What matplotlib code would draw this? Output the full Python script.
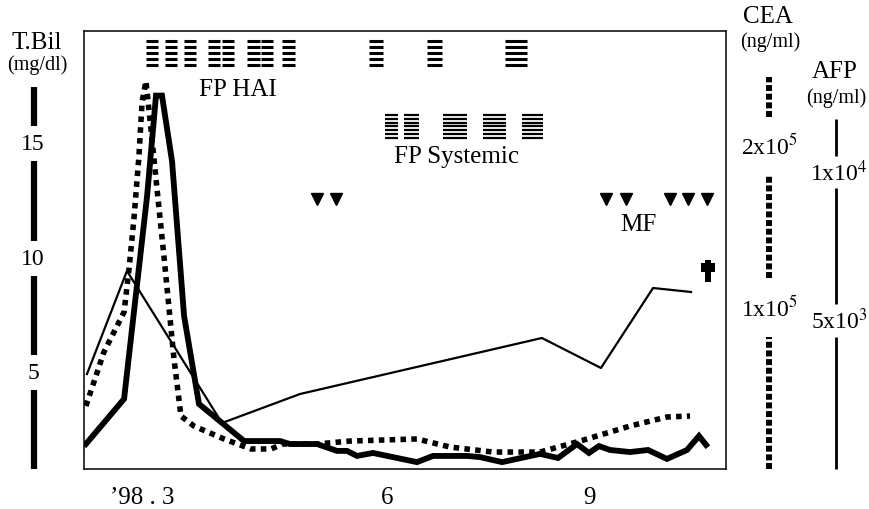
import numpy as np
import matplotlib
matplotlib.use("Agg")
import matplotlib.pyplot as plt
import matplotlib.transforms as mtransforms
from matplotlib.path import Path

plt.rcParams['font.family'] = ['Liberation Serif', 'DejaVu Serif']
plt.rcParams['mathtext.fontset'] = 'stix'

# time axis in days from the left edge of the frame
tbil_days = [0.8, 16.7, 26.3, 30.0, 32.5, 36.7, 41.7, 47.9, 66.7, 81.7, 85.8, 97.1,
             105.4, 109.6, 113.75, 120.4, 138.75, 145.4, 159.6, 165.0, 174.2, 190.0,
             197.5, 205.4, 210.4, 214.6, 219.2, 227.5, 235.0, 242.9, 251.25, 256.25, 259.2]
tbil_vals = [1.89, 3.86, 12.73, 17.10, 17.10, 14.22, 7.48, 3.64, 2.02, 2.02, 1.89, 1.89,
             1.59, 1.59, 1.37, 1.50, 1.10, 1.37, 1.37, 1.32, 1.10, 1.46,
             1.28, 1.89, 1.50, 1.80, 1.63, 1.54, 1.63, 1.24, 1.63, 2.24, 1.85]

cea_days = [0.8, 8.3, 16.7, 18.75, 20.8, 22.9, 24.2, 25.8, 27.9, 30.0, 33.3, 37.5, 40.4,
            45.8, 58.3, 69.6, 77.9, 82.9, 97.1, 110.8, 138.75, 152.5, 170.4, 190.0,
            206.7, 227.5, 242.9, 252.5]
cea_vals = [39000, 72450, 97200, 123800, 154800, 193800, 227200, 240200, 210500, 179600,
            131900, 68100, 32800, 26600, 18600, 12400, 12400, 15500, 15500, 17300, 18600,
            13600, 10500, 10500, 17300, 26600, 32200, 32800]

afp_days = [1.25, 17.9, 57.5, 90.0, 190.8, 215.4, 237.1, 252.9]
afp_vals = [3199, 6667, 1549, 2525, 4411, 3401, 6094, 5960]

# treatment courses (start, end in days)
hai_start = [25.8, 33.75, 41.7, 51.7, 57.5, 67.9, 73.75, 82.5, 118.75, 142.9, 175.4]
hai_end = [30.8, 38.75, 46.7, 56.7, 62.5, 73.3, 78.75, 87.9, 124.6, 149.2, 184.6]
sys_start = [125.4, 133.3, 149.6, 166.25, 182.5]
sys_end = [130.8, 139.6, 159.6, 175.8, 191.25]
mf_days = [97.1, 105.0, 217.5, 225.8, 244.2, 251.7, 259.6]
death_day = 260.0

month_ticks = [24.2, 126.25, 210.4]
month_labels = ['\u201998 . 3', '6', '9']

# latin cross marker
cross = Path([(-0.27, -1), (0.27, -1), (0.27, -0.05), (0.67, -0.05), (0.67, 0.68),
              (0.27, 0.68), (0.27, 1), (-0.27, 1), (-0.27, 0.68), (-0.67, 0.68),
              (-0.67, -0.05), (-0.27, -0.05), (-0.27, -1)], closed=True)

fig = plt.figure(figsize=(8.69, 5.10), dpi=100)
ax = fig.add_axes([84 / 869, 40 / 510, 642 / 869, 438 / 510])
ax_cea = ax.twinx()
ax_afp = ax.twinx()

ax.set_xlim(0, 267.5)
ax.set_ylim(0.8, 19.92)
ax_cea.set_ylim(0, 271200)
ax_afp.set_ylim(0, 14747)

for a in (ax_cea, ax_afp):
    a.set_yticks([])
    for s in a.spines.values():
        s.set_visible(False)
for s in ax.spines.values():
    s.set_linewidth(1.1)
ax.set_yticks([])
ax.set_xticks(month_ticks)
ax.set_xticklabels(month_labels, fontsize=18)
ax.tick_params(axis='x', length=0, pad=12)

ax.plot(tbil_days, tbil_vals, color='black', lw=4.2, solid_joinstyle='miter')
ax_cea.plot(cea_days, cea_vals, color='black', lw=4.0, dashes=(1.0, 0.95),
            dash_capstyle='butt')
ax_afp.plot(afp_days, afp_vals, color='black', lw=1.6)

# treatment blocks
xt = ax.get_xaxis_transform()
for s, e in zip(hai_start, hai_end):
    ax.hlines(np.linspace(0.922, 0.977, 5), s, e, transform=xt, color='black', lw=2.2)
for s, e in zip(sys_start, sys_end):
    ax.hlines(np.linspace(0.756, 0.808, 7), s, e, transform=xt, color='black', lw=1.6)
ax.plot(mf_days, [0.616] * len(mf_days), 'v', color='black', ms=9, transform=xt,
        clip_on=False)
ax.text(64.2, 0.868, 'FP HAI', transform=xt, fontsize=18, ha='center', va='center')
ax.text(155.0, 0.715, 'FP Systemic', transform=xt, fontsize=18, ha='center', va='center')
ax.text(230.8, 0.559, 'MF', transform=xt, fontsize=18, ha='center', va='center')
ax.plot([death_day], [0.452], marker=cross, ms=16, mew=0, color='black', transform=xt,
        clip_on=False)

# scale bars beside the frame
def scale_bar(a, xpos, top, ticks, gap, style, labels, lx):
    tr = mtransforms.blended_transform_factory(a.transAxes, a.transData)
    lo = a.get_ylim()[0]
    edges = [lo]
    for t in sorted(ticks):
        edges += [t - gap, t + gap]
    edges.append(top)
    for i in range(0, len(edges), 2):
        a.plot([xpos, xpos], [edges[i], edges[i + 1]], transform=tr, clip_on=False, **style)
    for t, lab in zip(ticks, labels):
        a.text(lx, t, lab, transform=tr, fontsize=17, ha='center', va='center')

scale_bar(ax, -0.0779, 17.48, [5, 10, 15], 0.77,
          dict(color='black', lw=4.5, solid_capstyle='butt'),
          ['5', '10', '15'], -0.0794)
scale_bar(ax_cea, 1.067, 242700, [100000, 200000], 18000,
          dict(color='black', lw=4.3, dashes=(1.0, 0.45), dash_capstyle='butt'),
          ['1x10$^5$', '2x10$^5$'], 1.067)
scale_bar(ax_afp, 1.171, 11785, [5000, 10000], 550,
          dict(color='black', lw=2.0, solid_capstyle='butt'),
          ['5x10$^3$', '1x10$^4$'], 1.176)

fig.text(37 / 869, 1 - 43 / 510, 'T.Bil', fontsize=18, ha='center', va='center')
fig.text(37 / 869, 1 - 65 / 510, '(mg/dl)', fontsize=14.5, ha='center', va='center')
fig.text(768 / 869, 1 - 17 / 510, 'CEA', fontsize=18, ha='center', va='center')
fig.text(770 / 869, 1 - 42 / 510, '(ng/ml)', fontsize=14.5, ha='center', va='center')
fig.text(835 / 869, 1 - 72 / 510, 'AFP', fontsize=18, ha='center', va='center')
fig.text(836 / 869, 1 - 98 / 510, '(ng/ml)', fontsize=14.5, ha='center', va='center')

fig.savefig('out.png', dpi=100)
